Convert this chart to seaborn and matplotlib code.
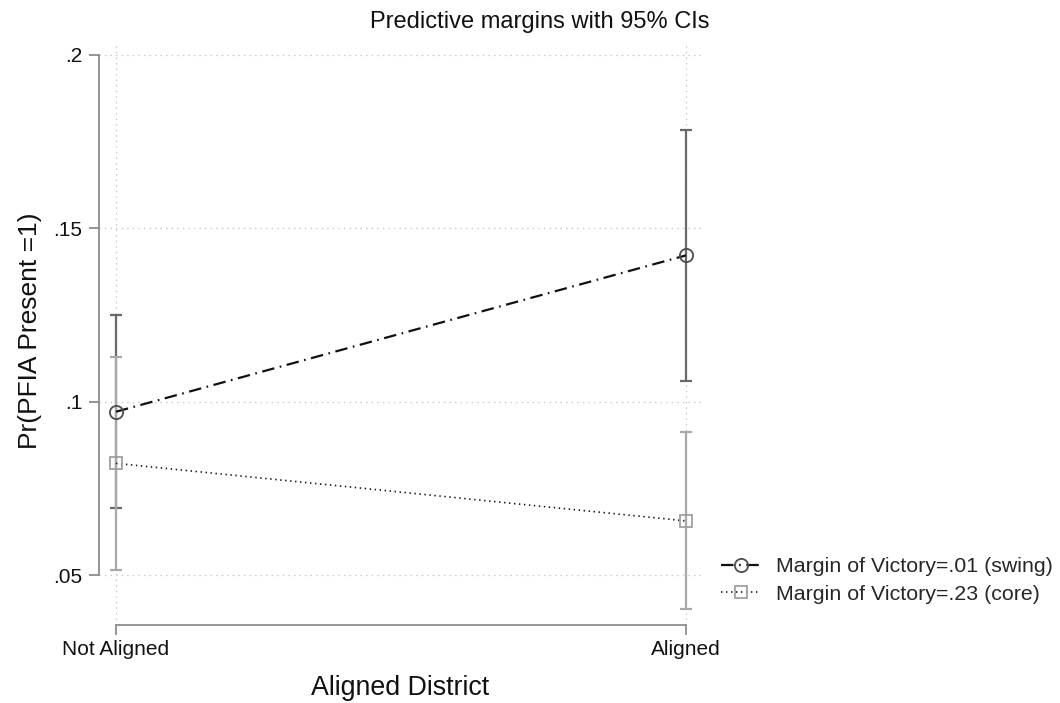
import numpy as np
import pandas as pd
import matplotlib
matplotlib.use("Agg")
import matplotlib.pyplot as plt
from matplotlib.lines import Line2D
import seaborn as sns

# Predictive margins of PFIA presence by district alignment
categories = ["Not Aligned", "Aligned"]
series_labels = ["Margin of Victory=.01 (swing)", "Margin of Victory=.23 (core)"]
swing_margin = [0.0971, 0.1422]
swing_lower = [0.0692, 0.1060]
swing_upper = [0.1249, 0.1785]
core_margin = [0.0822, 0.0656]
core_lower = [0.0514, 0.0403]
core_upper = [0.1130, 0.0913]
y_ticks = [0.05, 0.10, 0.15, 0.20]
y_tick_labels = [".05", ".1", ".15", ".2"]

sns.set_theme(style="white")
plt.rcParams["font.family"] = ["Liberation Sans", "DejaVu Sans"]
plt.rcParams["lines.scale_dashes"] = False

pos = np.arange(len(categories))
df = pd.DataFrame({
    "pos": np.concatenate([pos, pos]),
    "margin": swing_margin + core_margin,
    "lower": swing_lower + core_lower,
    "upper": swing_upper + core_upper,
    "series": [series_labels[0]] * len(pos) + [series_labels[1]] * len(pos),
})

fig = plt.figure(figsize=(10.6, 7.03), dpi=100)
ax = fig.add_axes([99 / 1060, 1 - 625 / 703, 603 / 1060, 582 / 703])

ci_colors = {series_labels[0]: "#6a6a6a", series_labels[1]: "#a9a9a9"}
marker_colors = {series_labels[0]: "#4d4d4d", series_labels[1]: "#a0a0a0"}
markers = {series_labels[0]: "o", series_labels[1]: "s"}
marker_sizes = {series_labels[0]: 9.5, series_labels[1]: 8.8}
dash_styles = {series_labels[0]: (9, 4, 1.2, 4), series_labels[1]: (1, 2.6)}
line_widths = {series_labels[0]: 1.6, series_labels[1]: 1.2}

# confidence intervals
for name, sub in df.groupby("series", sort=False):
    ax.errorbar(sub["pos"], sub["margin"],
                yerr=[sub["margin"] - sub["lower"], sub["upper"] - sub["margin"]],
                fmt="none", ecolor=ci_colors[name], elinewidth=1.6,
                capsize=4, capthick=1.6, zorder=2)

# connecting lines
sns.lineplot(data=df, x="pos", y="margin", style="series",
             style_order=series_labels, dashes=dash_styles, color="#111111",
             legend=False, ax=ax, zorder=3)
for line, name in zip(ax.lines[-len(series_labels):], series_labels):
    line.set_linewidth(line_widths[name])

# hollow markers
for name, sub in df.groupby("series", sort=False):
    ax.plot(sub["pos"], sub["margin"], linestyle="none", marker=markers[name],
            markersize=marker_sizes[name], markerfacecolor="none",
            markeredgecolor=marker_colors[name], markeredgewidth=1.3, zorder=4)

ax.set_xlim(-0.0298, 1.028)
ax.set_ylim(0.03558, 0.20346)
ax.set_xticks(pos, categories)
ax.set_yticks(y_ticks, y_tick_labels)

ax.grid(True, linestyle=(0, (1, 3)), color="#c4c4c4", linewidth=0.9)
for side in ["top", "right"]:
    ax.spines[side].set_visible(False)
for side in ["left", "bottom"]:
    ax.spines[side].set_color("#8c8c8c")
    ax.spines[side].set_linewidth(1.3)
ax.spines["left"].set_bounds(0.05, 0.20)
ax.spines["bottom"].set_bounds(0, 1)

ax.tick_params(axis="both", direction="out", length=7, width=1.3,
               color="#8c8c8c", labelcolor="#111111")
ax.tick_params(axis="y", labelsize=15, pad=5, left=True)
ax.tick_params(axis="x", labelsize=15, pad=4, bottom=True)

ax.set_xlabel("Aligned District", fontsize=19.3, color="#111111")
ax.xaxis.set_label_coords(0.499, -0.086)
ax.set_ylabel("Pr(PFIA Present =1)", fontsize=19, color="#111111")
ax.yaxis.set_label_coords(-0.0945, 0.505)

fig.suptitle("Predictive margins with 95% CIs", x=540 / 1060, y=1 - 22 / 703,
             va="center", fontsize=17, color="#111111")

handles = [
    Line2D([], [], color="#111111", linewidth=line_widths[n],
           linestyle=(0, dash_styles[n]), marker=markers[n],
           markersize=marker_sizes[n], markerfacecolor="none",
           markeredgecolor=marker_colors[n], markeredgewidth=1.3)
    for n in series_labels
]
fig.legend(handles, series_labels, loc="upper left",
           bbox_to_anchor=(721 / 1060, 1 - 557 / 703), frameon=False,
           fontsize=15.4, handlelength=1.85, handletextpad=0.72,
           borderpad=0, borderaxespad=0, labelspacing=0.42)

fig.savefig("out.png", dpi=100, facecolor="white")
